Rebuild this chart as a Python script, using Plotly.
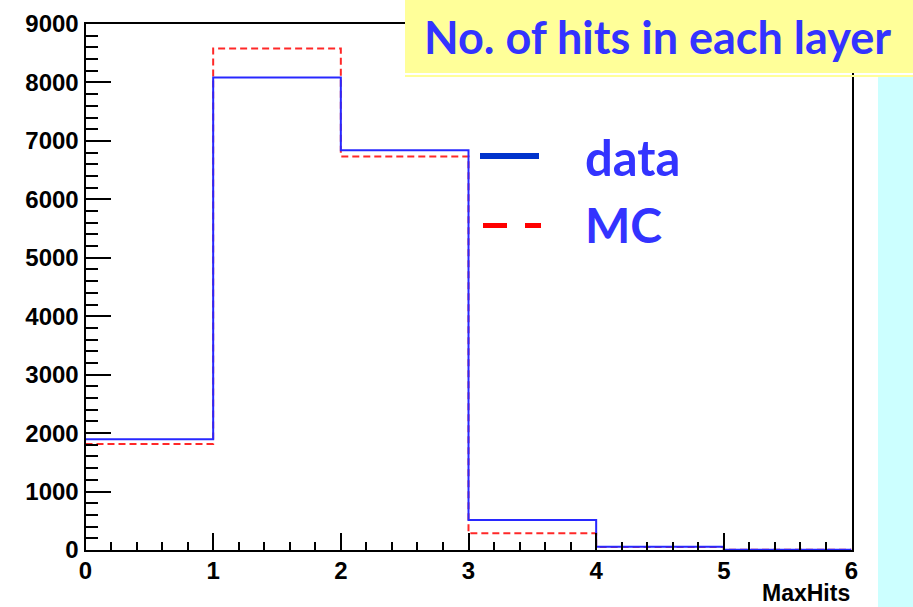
import plotly.graph_objects as go

W, H = 913, 607

# ---- data ----
bin_edges = [0, 1, 2, 3, 4, 5, 6]
data_counts = [1895, 8085, 6840, 515, 55, 5]
mc_counts = [1815, 8580, 6735, 285, 50, 5]

title_text = "No. of hits in each layer"
legend_labels = ["data", "MC"]
x_title = "MaxHits"

def px(x):
    return x / W

def py(y):
    return 1 - y / H

fig = go.Figure()

fig.add_trace(go.Scatter(
    x=bin_edges, y=mc_counts + [mc_counts[-1]], mode="lines",
    line=dict(shape="hv", color="rgb(255,40,40)", width=2, dash="7px,4px"),
    showlegend=False, hoverinfo="skip"))
fig.add_trace(go.Scatter(
    x=bin_edges, y=data_counts + [data_counts[-1]], mode="lines",
    line=dict(shape="hv", color="rgb(40,40,255)", width=2),
    showlegend=False, hoverinfo="skip"))

x0p, x1p = 85.5, 851.5
y0p, y1p = 550, 24

tickfont = dict(family="Liberation Sans", size=24, color="black", weight="bold")

fig.update_layout(
    width=W, height=H,
    margin=dict(l=0, r=0, t=0, b=0, autoexpand=False),
    paper_bgcolor="white", plot_bgcolor="white",
    xaxis=dict(
        domain=[px(x0p), px(x1p)], range=[0, 6], automargin=False,
        tickvals=[0, 1, 2, 3, 4, 5, 6], ticks="inside", ticklen=17, tickwidth=1.5,
        tickcolor="black", showgrid=False, zeroline=False,
        showline=True, linecolor="black", linewidth=2, mirror=True,
        minor=dict(dtick=0.2, ticks="inside", ticklen=8, tickwidth=1.5, tickcolor="black", showgrid=False),
        tickfont=tickfont, ticklabelstandoff=-2,
    ),
    yaxis=dict(
        domain=[py(y0p), py(y1p)], range=[0, 9000], automargin=False,
        tickvals=[0, 1000, 2000, 3000, 4000, 5000, 6000, 7000, 8000, 9000],
        ticks="inside", ticklen=25, tickwidth=1.5,
        tickcolor="black", showgrid=False, zeroline=False,
        showline=True, linecolor="black", linewidth=2, mirror=True,
        minor=dict(dtick=200, ticks="inside", ticklen=12, tickwidth=1.5, tickcolor="black", showgrid=False),
        tickfont=tickfont, ticklabelstandoff=0,
    ),
)

shapes = [
    # yellow title box
    dict(type="rect", xref="paper", yref="paper", x0=px(405), x1=1, y0=py(73), y1=1,
         fillcolor="#FFFF99", line=dict(width=0), layer="above"),
    dict(type="rect", xref="paper", yref="paper", x0=px(405), x1=1, y0=py(77), y1=py(75),
         fillcolor="#FFFF99", line=dict(width=0), layer="above"),
    # cyan strip
    dict(type="rect", xref="paper", yref="paper", x0=px(878), x1=1, y0=0, y1=py(77),
         fillcolor="#CCFFFF", line=dict(width=0), layer="above"),
    # legend glyphs
    dict(type="line", xref="paper", yref="paper", x0=px(480), x1=px(539), y0=py(156), y1=py(156),
         line=dict(color="#0033CC", width=6), layer="above"),
    dict(type="line", xref="paper", yref="paper", x0=px(483), x1=px(507), y0=py(225.5), y1=py(225.5),
         line=dict(color="#FF0000", width=5), layer="above"),
    dict(type="line", xref="paper", yref="paper", x0=px(525), x1=px(541), y0=py(225.5), y1=py(225.5),
         line=dict(color="#FF0000", width=5), layer="above"),
]
fig.update_layout(shapes=shapes)

blue_txt = "rgb(51,51,255)"
fig.add_annotation(text=title_text, xref="paper", yref="paper", x=px(657), y=py(37),
                   xanchor="center", yanchor="middle", showarrow=False,
                   font=dict(family="Lato", size=45, color=blue_txt, weight="bold"))
fig.add_annotation(text=legend_labels[0], xref="paper", yref="paper", x=px(583), y=py(157),
                   xanchor="left", yanchor="middle", showarrow=False,
                   font=dict(family="Lato", size=49, color=blue_txt, weight="bold"))
fig.add_annotation(text=legend_labels[1], xref="paper", yref="paper", x=px(583), y=py(224),
                   xanchor="left", yanchor="middle", showarrow=False,
                   font=dict(family="Lato", size=48, color=blue_txt, weight="bold"))
fig.add_annotation(text=x_title, xref="paper", yref="paper", x=px(851), y=0,
                   xanchor="right", yanchor="bottom", showarrow=False, borderpad=0,
                   font=dict(family="Liberation Sans", size=23, color="black", weight="bold"))

fig.write_html("out.html",
               post_script="document.body.style.margin='0';document.body.style.overflow='hidden';")
